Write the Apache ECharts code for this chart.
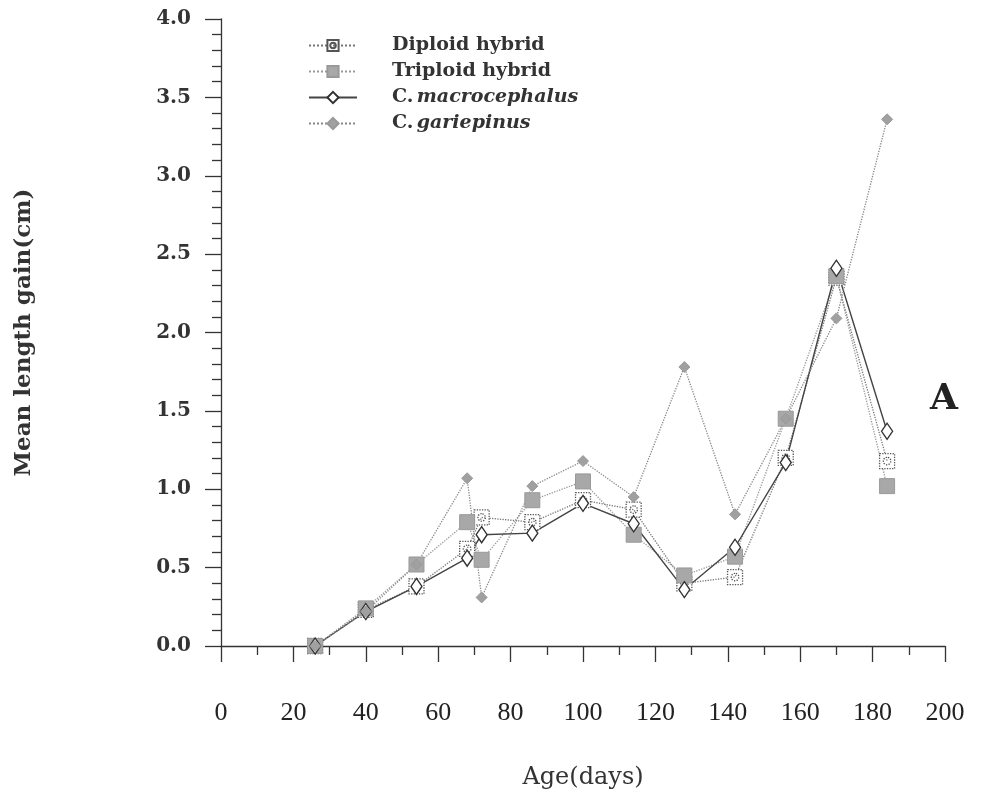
<!DOCTYPE html>
<html>
<head>
<meta charset="utf-8">
<title>Mean length gain</title>
<script src="https://cdn.jsdelivr.net/npm/echarts@6/dist/echarts.min.js"></script>
<style>
    html, body { margin: 0; padding: 0; background: #fff; }
    #growthChart { width: 989px; height: 803px; }
</style>
</head>
<body>
<div id="growthChart"></div>
<script>
// 数据：横轴日龄，四个品系的平均体长增量(cm)
var ageDays = [26, 40, 54, 68, 72, 86, 100, 114, 128, 142, 156, 170, 184];
var diploidGain = [0, 0.23, 0.38, 0.62, 0.82, 0.79, 0.93, 0.87, 0.40, 0.44, 1.20, 2.35, 1.18];
var triploidGain = [0, 0.24, 0.52, 0.79, 0.55, 0.93, 1.05, 0.71, 0.45, 0.57, 1.45, 2.36, 1.02];
var macroGain = [0, 0.22, 0.38, 0.56, 0.71, 0.72, 0.91, 0.78, 0.36, 0.63, 1.17, 2.41, 1.37];
var gariepGain = [0, 0.22, 0.52, 1.07, 0.31, 1.02, 1.18, 0.95, 1.78, 0.84, 1.45, 2.09, 3.36];
var seriesNames = ['Diploid hybrid', 'Triploid hybrid', 'C. macrocephalus', 'C. gariepinus'];
var xTicks = [0, 20, 40, 60, 80, 100, 120, 140, 160, 180, 200];
var yTicks = [0, 0.5, 1, 1.5, 2, 2.5, 3, 3.5, 4];

var serif = '"DejaVu Serif", "Liberation Serif", serif';

function pairs(vals) {
    var res = [];
    for (var i = 0; i < ageDays.length; i++) {
        res.push([ageDays[i], vals[i]]);
    }
    return res;
}

// 方框里带小圆圈的符号
var squareCircle = 'path://M0,0H20V20H0Z M10,5A5,5 0 1,0 10.01,5Z';

var chart = echarts.init(document.getElementById('growthChart'));
var option = {
    backgroundColor: '#fff',
    animation: false,
    grid: { left: 221, right: 44, top: 19, bottom: 157 },
    legend: {
        orient: 'vertical',
        left: 303,
        top: 31,
        itemWidth: 48,
        itemHeight: 14,
        itemGap: 7,
        data: seriesNames,
        formatter: function (name) {
            if (name.indexOf('C. ') === 0) {
                return '{n|C.} {i|' + name.substring(3) + '}';
            }
            return '{n|' + name + '}';
        },
        textStyle: {
            padding: [0, 0, 0, 30],
            rich: {
                n: { fontFamily: serif, fontSize: 19, fontWeight: 'bold', color: '#333' },
                i: { fontFamily: serif, fontSize: 19, fontWeight: 'bold', fontStyle: 'italic', color: '#333' }
            }
        }
    },
    xAxis: {
        type: 'value',
        min: 0,
        max: 200,
        interval: 20,
        name: 'Age(days)',
        nameLocation: 'middle',
        nameGap: 120,
        nameTextStyle: { fontFamily: serif, fontSize: 24, color: '#333' },
        axisLine: { lineStyle: { color: '#333', width: 1.3 } },
        axisTick: { length: 16, lineStyle: { color: '#333', width: 1.3 } },
        minorTick: { show: true, splitNumber: 2, length: 9, lineStyle: { color: '#333', width: 1.3 } },
        splitLine: { show: false },
        axisLabel: {
            margin: 54,
            fontFamily: '"Liberation Serif", serif',
            fontSize: 26,
            color: '#222',
            formatter: function (v) { return xTicks.indexOf(v) >= 0 ? String(v) : ''; }
        }
    },
    yAxis: {
        type: 'value',
        min: 0,
        max: 4,
        interval: 0.5,
        name: 'Mean length gain(cm)',
        nameLocation: 'middle',
        nameGap: 185,
        nameTextStyle: { fontFamily: serif, fontSize: 23, fontWeight: 'bold', color: '#333' },
        axisLine: { lineStyle: { color: '#333', width: 1.3 } },
        axisTick: { length: 16, lineStyle: { color: '#333', width: 1.3 } },
        minorTick: { show: true, splitNumber: 5, length: 9, lineStyle: { color: '#333', width: 1.3 } },
        splitLine: { show: false },
        axisLabel: {
            margin: 30,
            fontFamily: serif,
            fontSize: 20,
            fontWeight: 'bold',
            color: '#333',
            formatter: function (v) { return yTicks.indexOf(v) >= 0 ? v.toFixed(1) : ''; }
        }
    },
    graphic: [{
        type: 'text',
        left: 930,
        top: 382,
        style: { text: 'A', font: 'bold 36px ' + serif, fill: '#222' }
    }],
    series: [
        {
            name: seriesNames[0],
            type: 'line',
            data: pairs(diploidGain),
            symbol: squareCircle,
            symbolSize: 15,
            lineStyle: { color: '#777', width: 1.3, type: 'dotted' },
            itemStyle: { color: '#fff', borderColor: '#555', borderWidth: 1.3, borderType: 'dotted' }
        },
        {
            name: seriesNames[1],
            type: 'line',
            data: pairs(triploidGain),
            symbol: 'rect',
            symbolSize: 15,
            lineStyle: { color: '#999', width: 1.3, type: 'dotted' },
            itemStyle: { color: '#a8a8a8', borderColor: '#999', borderWidth: 1 }
        },
        {
            name: seriesNames[2],
            type: 'line',
            data: pairs(macroGain),
            symbol: 'diamond',
            symbolSize: [11, 16],
            lineStyle: { color: '#444', width: 1.4 },
            itemStyle: { color: '#fff', borderColor: '#333', borderWidth: 1.4 }
        },
        {
            name: seriesNames[3],
            type: 'line',
            data: pairs(gariepGain),
            symbol: 'diamond',
            symbolSize: 11,
            lineStyle: { color: '#888', width: 1.3, type: 'dotted' },
            itemStyle: { color: '#a0a0a0', borderColor: '#999', borderWidth: 1 }
        }
    ]
};
chart.setOption(option);
</script>
</body>
</html>
